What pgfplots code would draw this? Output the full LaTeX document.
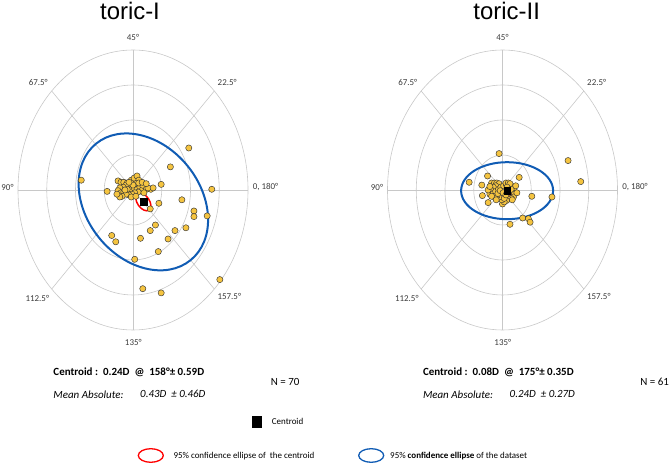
\documentclass[border=0pt]{standalone}
\usepackage{pgfplots}
\pgfplotsset{compat=1.18}
\usepackage{pgfplotstable}
\usepackage{fontspec}
\setmainfont{Carlito}
\newfontfamily\titlefont{Liberation Sans}
\definecolor{dotfill}{RGB}{245,196,64}
\definecolor{ellblue}{RGB}{16,92,180}
\definecolor{gridgray}{RGB}{200,200,200}
\definecolor{lblgray}{RGB}{60,60,60}

\pgfplotstableread{
x y
0.97 0.60
0.65 0.33
0.49 0.08
0.31 0.01
1.37 0.01
-0.45 -0.02
0.85 -0.14
0.45 -0.19
0.30 -0.27
1.06 -0.30
1.06 -0.38
1.29 -0.37
0.39 -0.50
0.92 -0.54
0.73 -0.58
0.30 -0.58
-0.37 -0.65
-0.30 -0.74
0.13 -0.69
0.61 -0.70
0.44 -0.88
0.03 -0.99
0.17 -1.41
0.49 -1.47
1.51 -1.28
-0.90 0.14
-0.26 0.13
-0.21 0.11
-0.16 0.11
-0.10 0.10
-0.03 0.14
0.02 0.17
0.07 0.20
0.10 0.14
0.05 0.09
-0.07 0.06
-0.12 0.07
-0.17 0.04
-0.23 0.03
-0.26 -0.01
-0.21 -0.04
-0.16 -0.03
-0.09 -0.01
-0.03 0.01
0.02 0.03
0.07 0.01
0.12 0.04
0.17 0.06
0.23 0.01
0.26 0.03
0.35 0.03
0.14 -0.01
0.09 -0.03
0.03 -0.04
-0.02 -0.06
-0.07 -0.07
-0.12 -0.06
-0.19 -0.09
-0.23 -0.10
-0.03 -0.10
0.05 -0.09
0.19 -0.04
-0.10 0.01
0.00 0.07
0.10 0.10
0.16 0.11
-0.14 0.00
-0.28 -0.06
-0.07 0.11
0.23 0.09
}\toricI

\pgfplotstableread{
x y
-0.06 0.52
1.14 0.42
1.36 0.12
-0.58 0.11
-0.26 0.20
-0.36 0.07
0.29 0.18
0.51 -0.09
0.86 -0.10
0.35 -0.40
0.45 -0.41
0.48 -0.46
0.13 -0.49
-0.35 -0.08
-0.25 -0.18
0.00 -0.20
-0.19 0.10
-0.14 0.10
-0.10 0.10
-0.06 0.09
-0.12 0.06
-0.16 0.04
-0.20 0.00
-0.22 -0.06
-0.16 -0.05
-0.12 -0.02
-0.07 0.01
-0.03 0.04
0.02 0.06
0.07 0.07
0.11 0.07
0.16 0.04
0.19 0.00
0.21 -0.05
0.19 -0.10
0.15 -0.12
0.10 -0.13
0.07 -0.15
0.03 -0.17
-0.01 -0.14
-0.06 -0.10
-0.10 -0.09
-0.14 -0.10
-0.19 -0.09
-0.08 -0.05
0.06 0.10
0.10 0.10
0.13 0.09
0.08 0.04
0.03 -0.12
0.17 -0.14
-0.04 -0.01
0.01 -0.04
0.06 -0.07
0.11 -0.03
0.15 0.01
-0.25 0.00
-0.22 0.05
-0.11 -0.14
0.23 0.06
0.25 -0.04
}\toricII

\usetikzlibrary{calc}
\newcommand{\polargrid}[1]{%
  \foreach \k in {1,2,3,4}{
    \draw[gridgray, line width=0.6bp] (#1,275) ellipse [x radius={\k*28.75bp}, y radius={\k*35bp}];
  }
  \foreach \a in {0,45,...,315}{
    \draw[gridgray, line width=0.6bp] (#1,275) -- ++({115*cos(\a)},{140*sin(\a)});
  }
  \begin{scope}[every node/.style={font=\fontsize{9}{10}\selectfont, text=lblgray, inner sep=0pt}]
    \node at ($(#1,275)+(0,152.7)$) {45°};
    \node at ($(#1,275)+(94.2,107.3)$) {22.5°};
    \node at ($(#1,275)+(-94.7,107.3)$) {67.5°};
    \node at ($(#1,275)+(-125.5,2.7)$) {90°};
    \node at ($(#1,275)+(132.5,2.7)$) {0, 180°};
    \node at ($(#1,275)+(-95.7,-108.3)$) {112.5°};
    \node at ($(#1,275)+(96.3,-106.7)$) {157.5°};
    \node at ($(#1,275)+(0.3,-152.7)$) {135°};
  \end{scope}
}

\begin{document}
\begin{tikzpicture}[x=1bp,y=1bp]
\useasboundingbox (0,0) rectangle (669,465);
\polargrid{133}
\polargrid{502.5}

\node[font=\titlefont\fontsize{24}{28}\selectfont, anchor=base] at (130,445) {toric-I};
\node[font=\titlefont\fontsize{24}{28}\selectfont, anchor=base] at (506.7,445) {toric-II};

\begin{axis}[at={(133bp,275bp)}, anchor=center, hide axis, x=57.5bp, y=70bp,
  xmin=-2.2, xmax=2.2, ymin=-2.2, ymax=2.2, clip=false]
  \draw[ellblue, line width=2bp] (axis cs:0.18,-0.17) ellipse [x radius=75bp, y radius=57bp, rotate=-51];
  \addplot[only marks, mark=*, mark size=3.1bp, mark options={fill=dotfill, draw=black!80, line width=0.45bp}] table[x=x,y=y] {\toricI};
  \draw[red, line width=1.5bp] (axis cs:0.18,-0.17) ellipse [x radius=10bp, y radius=6bp, rotate=-55];
  \addplot[only marks, mark=square*, mark size=3.6bp, black] coordinates {(0.18,-0.17)};
\end{axis}

\begin{axis}[at={(502.5bp,275bp)}, anchor=center, hide axis, x=57.5bp, y=70bp,
  xmin=-2.2, xmax=2.2, ymin=-2.2, ymax=2.2, clip=false]
  \draw[ellblue, line width=2bp] (axis cs:0.08,-0.01) ellipse [x radius=46bp, y radius=28.5bp];
  \addplot[only marks, mark=*, mark size=3.1bp, mark options={fill=dotfill, draw=black!80, line width=0.45bp}] table[x=x,y=y] {\toricII};
  \draw[red, line width=1.8bp] (axis cs:0.08,-0.01) ellipse [x radius=7bp, y radius=4.3bp];
  \addplot[only marks, mark=square*, mark size=3.4bp, black] coordinates {(0.08,-0.01)};
\end{axis}

% statistics texts
\begin{scope}[every node/.style={inner sep=0pt, anchor=west}]
\node[font=\fontsize{11}{13}\selectfont\bfseries] at (53.3,92.3) {Centroid :\ \ 0.24D\ \ @\ \ 158°± 0.59D};
\node[font=\fontsize{11}{13}\selectfont\itshape] at (53.3,70.7) {Mean Absolute:};
\node[font=\fontsize{11}{13}\selectfont\itshape] at (140,70.7) {0.43D\ \ ± 0.46D};
\node[font=\fontsize{11}{13}\selectfont] at (270.7,82.7) {N = 70};

\node[font=\fontsize{11}{13}\selectfont\bfseries] at (422.8,92.3) {Centroid :\ \ 0.08D\ \ @\ \ 175°± 0.35D};
\node[font=\fontsize{11}{13}\selectfont\itshape] at (422.8,70.7) {Mean Absolute:};
\node[font=\fontsize{11}{13}\selectfont\itshape] at (509.5,70.7) {0.24D\ \ ± 0.27D};
\node[font=\fontsize{11}{13}\selectfont] at (640.2,82.7) {N = 61};

% legend
\fill[black] (251.7,36.7) rectangle (261.7,49);
\node[font=\fontsize{9}{11}\selectfont] at (271.7,43.5) {Centroid};
\draw[red, line width=1.3bp] (150.8,9.5) ellipse [x radius=12.5bp, y radius=6.8bp];
\node[font=\fontsize{9}{11}\selectfont] at (173.3,9.3) {95\% confidence ellipse of\ \ the centroid};
\draw[ellblue, line width=1.3bp] (371.2,9.5) ellipse [x radius=12.5bp, y radius=6.8bp];
\node[font=\fontsize{9}{11}\selectfont] at (390,9.3) {95\% \textbf{confidence ellipse} of the dataset};
\end{scope}
\end{tikzpicture}
\end{document}
